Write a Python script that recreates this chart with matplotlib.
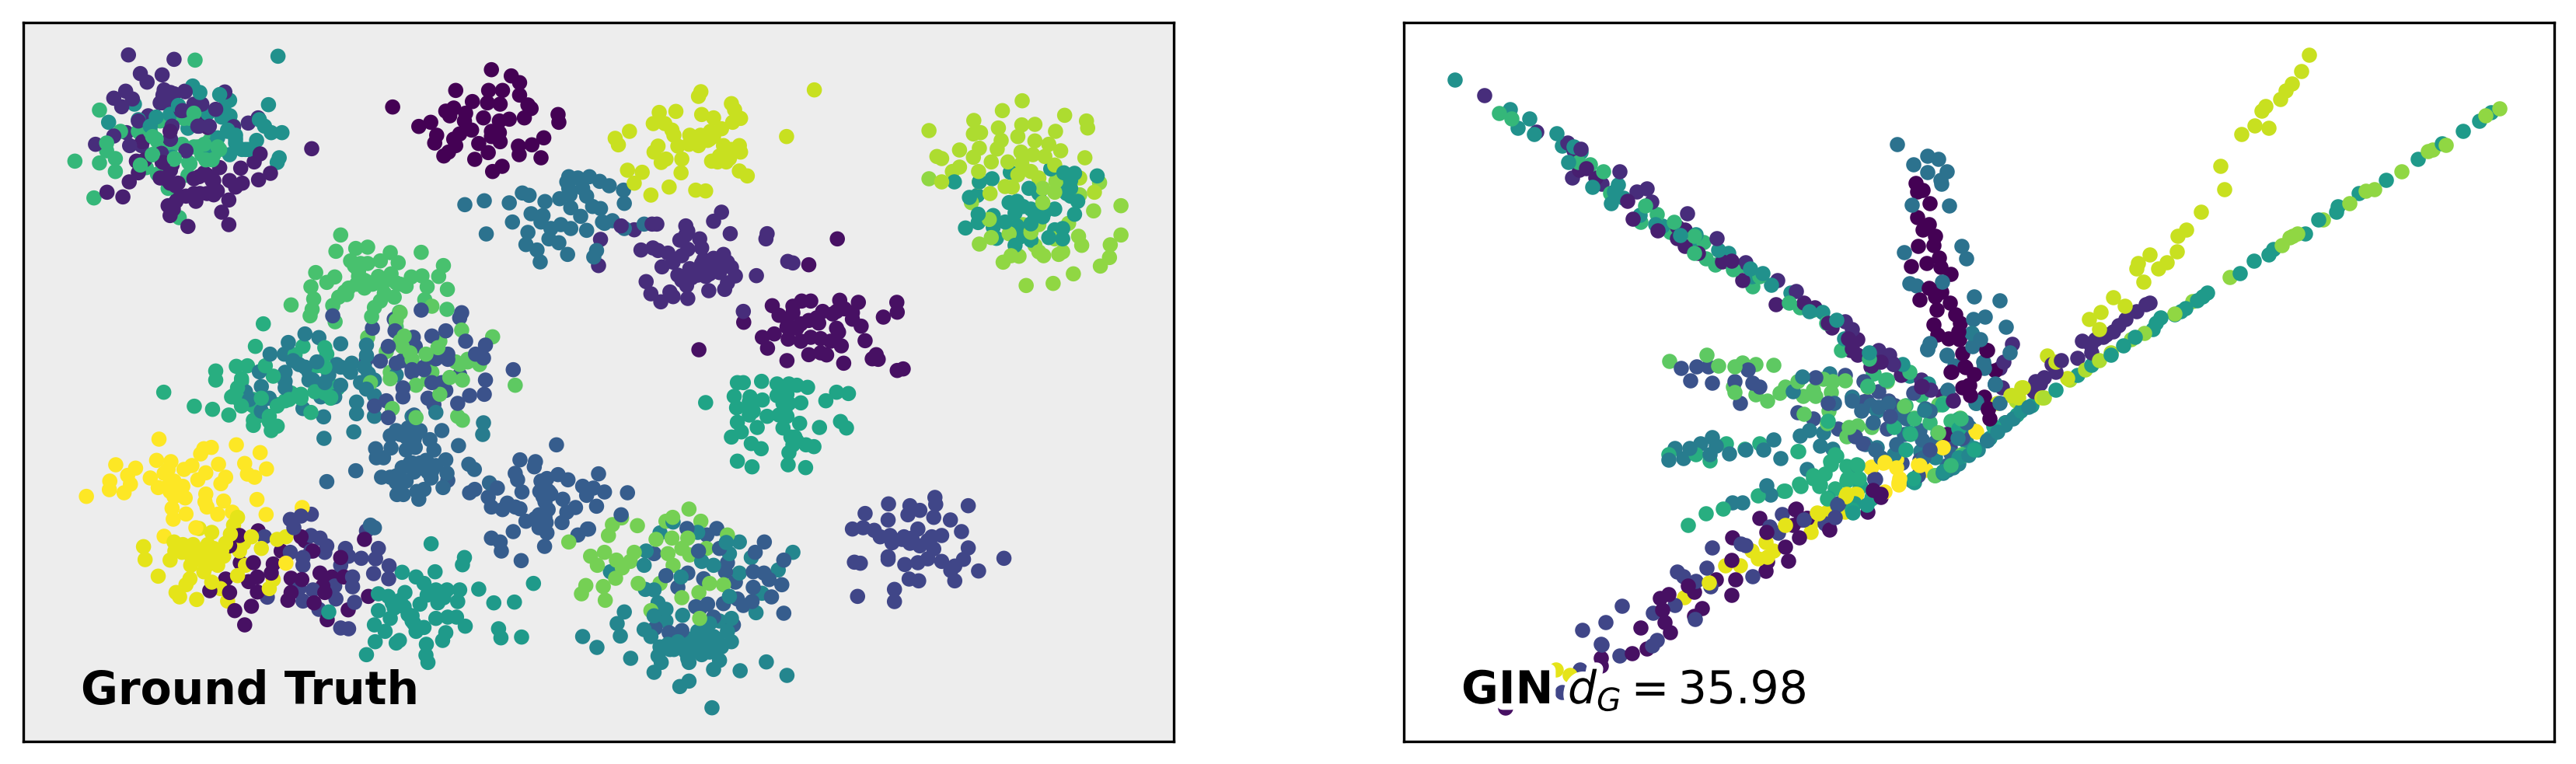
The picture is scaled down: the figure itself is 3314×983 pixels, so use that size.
import numpy as np
import matplotlib
matplotlib.use("Agg")
import matplotlib.pyplot as plt
import matplotlib.patheffects as pe

# ---- ground truth embedding, one list per blob ----
gt0 = [(1240,272),(1290,296),(1311,322),(1150,352),(1233,352),(1268,352),(1311,370),(1192,395),(991,416),(1332,408),(1340,422),(1230,400),(1262,405),(1145,420),(1125,432),(1135,450),(1175,440),(1323,458),(1408,445),(1410,475),(1220,458),(1285,463),(1260,470),(1172,470),(1057,491),(1087,475),(1190,505),(1160,520),(1240,510),(1260,515),(1102,525),(1145,540),(1097,555),(1262,550),(1372,535),(1342,562),(1308,567),(1208,557),(1150,565),(1132,590),(1232,592),(1120,605),(1310,600),(1365,612),(1198,618),(1267,645),(1243,665),(1240,530)]
gt1 = [(2112,925),(2040,1025),(1763,1353),(1876,1247),(1948,1183),(1965,1220),(2000,1185),(2022,1165),(2045,1165),(2118,1162),(2165,1170),(2262,1170),(2263,1208),(2228,1227),(2150,1210),(2075,1205),(2110,1205),(2130,1195),(1985,1235),(2020,1253),(1985,1265),(2065,1250),(2110,1270),(2115,1285),(2172,1262),(2150,1235),(1923,1305),(1953,1292),(1988,1312),(2020,1320),(2045,1305),(2070,1310),(2095,1320),(2122,1338),(2182,1318),(1936,1347),(2040,1372),(2070,1365),(2085,1373),(1985,1395),(2128,1405),(2210,1372),(2200,1388),(2215,1390),(2263,1433),(2278,1427),(2040,1240),(2060,1230),(2100,1215),(2000,1210),(2010,1270),
       (760,2075),(652,2052),(605,2070),(580,2110),(920,2085),(607,2175),(640,2175),(690,2180),(710,2130),(770,2090),(790,2130),(860,2155),(570,2238),(530,2283),(580,2290),(628,2248),(650,2230),(650,2288),(685,2215),(735,2235),(762,2240),(808,2215),(838,2230),(868,2230),(815,2265),(820,2290),(727,2320),(735,2290),(793,2330),(930,2305),(879,2357),(593,2360),(635,2343),(826,2395),(618,2415)]
gt2 = [(787,577),(657,597),(642,628),(608,652),(683,672),(653,697),(612,710),(595,725),(580,700),(555,650),(525,680),(490,693),(540,700),(430,710),(450,710),(405,690),(345,625),(350,670),(327,705),(271,745),(311,763),(470,760),(505,750),(540,755),(578,775),(495,780),(445,780),(425,797),(430,835),(560,822),(578,870),(475,877),(435,640),(410,630),(525,495),(430,540),(430,510),(500,480),(360,550),(444,720),(425,700),(451,760),(503,685),(536,700),(523,750),(490,750),(431,660),(438,810),(516,670),(549,740),(412,630),(356,560),(366,620)]
gt3 = [(325,215),(440,232),(355,287),(410,292),(372,320),(318,355),(288,382),(335,385),(308,415),(415,350),(440,365),(468,357),(420,395),(410,400),(430,380),(568,358),(490,405),(510,405),(458,430),(545,425),(375,450),(350,470),(435,490),(320,515),(288,528),(242,560),(328,565),(358,565),(408,595),(470,585),(627,478),(652,458),(590,492),(500,490),(412,370),(431,360),(405,400),(467,355),(431,490),(431,540),(461,430),(503,490),(529,490),
       (1567,875),(1600,890),(1645,868),(1657,868),(1515,927),(1510,1028),(1820,822),(1800,857),(1730,875),(1735,895),(1842,905),(1935,905),(1932,925),(1765,925),(1715,930),(1730,910),(1617,968),(1647,960),(1660,970),(1770,960),(1735,965),(1685,980),(1720,990),(1698,1015),(1670,1033),(1825,985),(1800,1000),(1775,1005),(1835,1015),(1845,1035),(1855,1068),(1770,1040),(1740,1040),(1710,1065),(1760,1065),(1790,1060),(1815,1055),(1908,1067),(1987,1012),(2000,1018),(1630,1090),(1642,1137),(1667,1168),(1690,1130),(1698,1148),(1732,1105),(1735,1155),(1788,1125),(1828,1120),(1835,1095),(1875,1205),(1770,1020),(1790,1030),(1800,1045),(1750,1055),(1780,1070),(1745,1075),(1815,1030),(1730,1070),(1720,1085)]
gt5 = [(2358,1923),(2241,1948),(2360,1950),(2442,1955),(2295,1955),(2320,1973),(2182,1985),(2290,1990),(2355,2000),(2240,2010),(2397,2010),(2150,2045),(2177,2040),(2205,2050),(2425,2055),(2315,2045),(2245,2070),(2375,2070),(2220,2075),(2350,2075),(2275,2085),(2250,2098),(2295,2100),(2320,2110),(2355,2122),(2442,2118),(2240,2152),(2240,2162),(2532,2158),(2155,2173),(2170,2177),(2375,2170),(2430,2162),(2340,2160),(2282,2182),(2315,2175),(2408,2188),(2398,2205),(2468,2207),(2293,2238),(2317,2245),(2408,2245),(2256,2278),(2163,2305),(2256,2325),(2280,2075),(2300,2080),(2340,2090),
       (786,1988),(760,1995),(733,2008),(742,2040),(668,2075),(785,2070),(808,2080),(925,2052),(825,2110),(872,2120),(955,2120),(733,2135),(785,2130),(765,2155),(820,2135),(880,2150),(912,2158),(948,2160),(860,2185),(765,2185),(982,2187),(943,2217),(981,2237),(890,2230),(890,2268),(845,2265),(755,2275),(790,2280),(675,2308),(765,2323),(848,2315),(895,2328),(805,2355),(860,2427),(880,2430)]
gt6 = [(840,1222),(995,1235),(1063,1200),(1165,1210),(1160,1230),(940,1270),(997,1280),(1125,1280),(1043,1305),(1090,1300),(1175,1320),(1225,1335),(1295,1430),(1220,1385),(980,1340),(1048,1340),(925,1390),(960,1397),(1015,1395),(1100,1388),(1130,1390),(1200,1370),(1040,1440),(1070,1430),(1115,1480),(1160,1450),(1225,1470),(1017,1500),(1090,1480),(1125,1510),(1155,1560),(1185,1530),(1222,1525),(945,1570),(975,1550),(1017,1535),(1080,1540),(1095,1565),(980,1615),(1040,1430),(1070,1420),(1000,1405),(1130,1370),(1105,1380)]
gt7 = [(1404,1720),(1312,1778),(1351,1785),(1348,1805),(1300,1830),(1306,1855),(1408,1835),(1510,1832),(1433,1855),(1365,1860),(1130,1857),(1255,1887),(1470,1880),(1497,1887),(1525,1902),(1317,1902),(1378,1890),(1362,1900),(1185,1905),(1198,1892),(1232,1922),(1420,1930),(1480,1915),(1375,1940),(1280,1945),(1240,1960),(1268,1970),(1312,1967),(1383,1970),(1505,1957),(1452,1962),(1430,1980),(1350,2005),(1327,2015),(1378,2020),(1418,2020),(1295,2055),(1360,2040),(1380,2060),(1482,2045),(1458,2068),(1240,2080),(1262,2095),(1265,2130),(1374,2112),(1315,2167),(1370,1880),(1385,1900),(1390,1910),(1370,1920),(1360,1990),(1375,2000),(1300,1960),(1380,1850),
       (1808,2043),(1733,2043),(1783,2068),(1928,2095),(1905,2135),(1977,2165),(1650,2140),(1762,2130),(1815,2120),(1835,2175),(1830,2210),(1900,2210),(1927,2215),(1940,2240),(1972,2260),(1900,2270),(1855,2250),(1775,2237),(1735,2215),(1680,2225),(1710,2270),(1946,2307),(1897,2325),(1875,2340),(1860,2315),(1825,2333),(1785,2335),(1755,2345),(1767,2350),(1977,2370),(1660,2358),(1653,2427),(1688,2445),(1720,2437),(1850,2415),(1800,2385),(1485,2045),(1567,1990),(1583,1905)]
gt8 = [(1045,1605),(1000,1665),(1030,1655),(1060,1665),(985,1685),(1025,1690),(1045,1700),(1085,1700),(1115,1665),(1157,1723),(948,1735),(987,1732),(1025,1740),(1048,1730),(1095,1740),(950,1770),(968,1770),(1125,1778),(1035,1790),(1075,1780),(1015,1808),(1060,1810),(1100,1800),(1183,1795),(1197,1815),(898,1820),(1080,1825),(1045,1825),(963,1845),(985,1845),(1088,1848),(1128,1830),(1000,1865),(1025,1860),(1235,1867),(825,1862),(1118,1885),(1070,1892),(1052,1900),(1002,1912),(1018,1912),(1057,1930),(935,2030),(945,2040),(1010,1680),(1050,1680),(1080,1790),(1060,1790),(1090,1820),(1040,1790),(1000,1840)]
gt9 = [(1173,793),(1222,778),(1285,786),(1318,748),(1335,757),(1375,781),(1293,860),(1340,828),(1370,835),(1365,860),(1227,906),(1332,900),(1327,947),(1385,925),(1410,940),(1355,968),(1363,1014),(1432,985),(1505,970),(1498,995),(1435,685),(1430,705),(1458,690),(1487,685),(1513,703),(1537,720),(1412,770),(1438,755),(1435,730),(1470,730),(1480,760),(1440,805),(1495,800),(1515,808),(1465,838),(1415,870),(1390,885),(1440,885),(1480,892),(1525,865),(1573,737),(1575,788),(1520,860),(1545,855),(1625,868),(1575,885)]
gt10 = [(770,1292),(805,1306),(860,1330),(728,1325),(682,1370),(718,1370),(755,1410),(655,1438),(720,1440),(780,1440),(850,1410),(888,1405),(885,1440),(925,1335),(925,1375),(930,1445),(1000,1450),(790,1470),(820,1480),(620,1515),(660,1495),(630,1545),(660,1555),(680,1540),(720,1500),(660,1590),(765,1580),(817,1612),(900,1600),(945,1610),(893,1670),(818,1695),(900,1555),(945,1530),(1100,1595),(1220,1635),(1218,1680),(810,1535),(845,1535),(925,1505),(1040,1610),(740,1395),(770,1420),(800,1400),(860,1420),(880,1430),(920,1420),(720,1475),(780,1470),(830,1450),(860,1490),(945,1470),(910,1480)]
gt11 = [(1698,2018),(1665,2060),(1760,2058),(1865,2095),(1832,2097),(1840,2140),(1895,2155),(2000,2135),(1963,2203),(1865,2215),(1630,2130),(1625,2185),(1540,2210),(1770,2170),(1800,2185),(1718,2230),(1628,2278),(1650,2280),(1840,2305),(1922,2293),(1907,2368),(1722,2378),(1575,2365),(1660,2330),(1680,2355),(1650,2380),(1557,2410),(1565,2458),(1625,2433),(1642,2460),(1680,2400),(1470,2460),(1506,2502),(1591,2544),(1665,2500),(1685,2490),(1710,2480),(1740,2470),(1760,2440),(1790,2410),(1815,2400),(1845,2390),(1835,2440),(1845,2480),(1820,2500),(1790,2520),(1770,2530),(1735,2545),(1660,2535),(1668,2560),(1738,2560),(1815,2552),(1800,2587),(1867,2592),(1933,2558),(1985,2610),(1650,2598),(1738,2632),(1715,2653),(1796,2735),(1770,2480),(1800,2460),(1720,2500),(1760,2490),(1780,2490),(1800,2510),(1700,2510),(1730,2520),(1750,2500),(1690,2510),(1810,2470),(1780,2450)]
gt12 = [(702,220),(487,335),(505,360),(555,368),(580,390),(340,405),(678,407),(275,475),(350,465),(430,445),(395,455),(475,498),(525,440),(565,420),(560,455),(580,455),(655,465),(668,490),(685,515),(712,515),(575,505),(595,525),(550,535),(525,565),(648,545),(595,555),(620,580),(580,600),(705,612),(700,630),(435,610),(380,490),(523,440),(562,430),(581,450),(575,510),(595,540),(431,445),(451,410),(611,580),(627,580)]
gt13 = [(2407,705),(2502,693),(2548,668),(2470,705),(2650,655),(2683,670),(2710,672),(2767,682),(2595,730),(2685,705),(2700,730),(2620,750),(2445,765),(2465,757),(2718,780),(2545,785),(2565,780),(2600,810),(2560,825),(2635,820),(2660,810),(2710,830),(2467,830),(2505,835),(2467,862),(2435,883),(2535,860),(2505,880),(2565,875),(2600,867),(2660,890),(2513,923),(2572,918),(2560,950),(2600,930),(2645,920),(2680,925),(2680,885),(2610,830),(2630,840),(2580,800),(2700,760),(2690,750),(2700,700),
        (1088,2102),(1172,2155),(1167,2183),(1098,2210),(1015,2212),(1050,2230),(1070,2255),(1346,2255),(1208,2277),(1022,2290),(955,2295),(1100,2280),(1128,2280),(1160,2280),(980,2305),(1078,2300),(1060,2335),(1105,2330),(1155,2325),(1246,2330),(1298,2327),(1020,2345),(995,2350),(955,2360),(830,2365),(1040,2380),(985,2390),(1100,2390),(1130,2385),(1152,2385),(945,2415),(1174,2420),(1045,2410),(1070,2425),(972,2440),(1050,2440),(1258,2430),(1264,2465),(1316,2462),(1125,2445),(1117,2475),(947,2480),(1008,2475),(1000,2485),(1076,2490),(1075,2532),(925,2530),(1080,2560),(1030,2375),(1010,2320),(990,2330),(1120,2310),(1040,2400)]
gt14 = [(1860,1480),(1875,1480),(1921,1475),(1960,1485),(1990,1485),(2010,1490),(2037,1498),(2110,1517),(2140,1522),(1780,1557),(1852,1533),(1892,1535),(1923,1547),(1960,1530),(1985,1525),(2020,1558),(2083,1550),(1858,1577),(1892,1575),(1980,1585),(1890,1605),(1935,1610),(1965,1605),(2120,1630),(2135,1655),(1860,1633),(1910,1653),(2017,1637),(2067,1653),(1975,1655),(1870,1670),(1845,1690),(1995,1690),(2010,1705),(1895,1715),(1920,1735),(2033,1720),(2053,1727),(1990,1750),(1860,1783),(1897,1805),(1988,1797),(2032,1808),(1890,1555),(1975,1560),(1990,1560),(1985,1610),(2005,1690),(2000,1720),(1900,1590)]
gt15 = [(665,1253),(645,1340),(545,1435),(545,1470),(597,1417),(625,1415),(610,1465),(670,1415),(690,1455),(765,1340),(820,1345),(825,1370),(745,1372),(800,1415),(820,1420),(850,1495),(414,1517),(491,1571),(537,1583),(578,1605),(585,1535),(610,1570),(640,1545),(640,1625),(640,1645),(680,1630),(685,1665),(700,1648),(730,1545),(700,1565),(760,1525),(795,1515),(835,1537),(852,1502),(785,1595),(600,1500),(610,1475),(600,1540),(625,1560),(660,1540),(720,1550),(745,1530),(700,1570),(640,1570),(590,1530),(650,1610),(680,1610),(735,1520),(760,1540),(820,1520),(835,1540)]
gt16 = [(493,235),(252,428),(190,625),(252,632),(292,615),(292,665),(238,767),(453,843),(270,585),(270,555),(305,510),(350,510),(380,510),(395,540),(370,650),(398,675),(385,600),(430,580),(460,560),(480,635),(520,620),(540,600),(500,570),(550,570),(530,545),(405,470),(465,460),(490,440),(510,415),(590,490),(440,618),(475,680),(425,730),(355,640),(386,530),(353,515),(399,550),(480,460),(510,600),(536,620),(516,560),(555,580),(490,570),(477,630),(386,600),(441,615)]
gt17 = [(860,910),(848,973),(898,962),(928,957),(985,978),(1063,977),(885,1010),(928,1020),(960,1010),(1005,1017),(1119,1028),(797,1055),(845,1072),(825,1093),(905,1050),(955,1070),(987,1060),(1038,1072),(1065,1068),(1107,1070),(785,1110),(880,1115),(920,1085),(950,1095),(1000,1095),(1025,1108),(1078,1110),(1129,1120),(792,1157),(875,1140),(855,1150),(735,1180),(970,1135),(995,1150),(840,1182),(1072,1160),(1128,1197),(945,1190),(788,1197),(783,1222),(938,1225),(846,1245),(1008,1208),(1000,1265),(920,1115),(905,1070),(925,1090),(900,1100),(940,1100),(975,1085),(1010,1100),(895,1030),(910,1020),(870,1130),(960,1165)]
gt18 = [(1165,1277),(1243,1303),(928,1305),(1010,1210),(1010,1320),(1110,1320),(975,1360),(1075,1370),(1105,1345),(1180,1390),(1210,1410),(1135,1460),(1167,1470),(1080,1470),(935,1480),(985,1465),(1300,1490),(1050,1490),(1110,1525),(1155,1610),(1167,1625),(990,1580),(1050,1615),(1090,1185),(1000,1240),(1020,1300),(1040,1390),(1160,1410),(1015,1340),(1035,1365),(1080,1400),(1150,1400),(1180,1400),(985,1440),(1090,1440)]
gt19 = [(1738,1968),(1697,2000),(1768,2015),(1680,2015),(1608,2032),(1568,2002),(1545,2028),(1535,2070),(1525,2135),(1490,2150),(1507,2185),(1555,2165),(1600,2135),(1590,2170),(1570,2195),(1553,2235),(1522,2267),(1527,2320),(1478,2263),(1735,2080),(1695,2080),(1655,2085),(1685,2140),(1698,2185),(1782,2120),(1835,2068),(1610,2255),(1665,2255),(1790,2255),(1825,2260),(1763,2290),(1720,2310),(1642,2360),(1765,2390),(1740,2145),(1720,2120),(1435,2095),(1467,2295)]
gt20 = [(2343,693),(2663,703),(2660,745),(2723,755),(2773,708),(2630,730),(2630,785),(2450,785),(2827,797),(2758,817),(2827,910),(2800,948),(2798,997),(2775,1030),(2707,1060),(2656,1097),(2588,1105),(2470,945),(2495,850),(2530,1015),(2550,990),(2570,992),(2620,975),(2632,990),(2670,985),(2680,975),(2720,915),(2728,950),(2695,865),(2580,870),(2600,900),(2620,870),(2660,925),(2500,920),(2545,905),(2610,950)]
gt21 = [(2578,392),(2528,430),(2456,468),(2685,448),(2740,470),(2743,497),(2343,507),(2518,497),(2577,485),(2610,483),(2455,520),(2473,515),(2567,530),(2662,510),(2610,547),(2525,545),(2470,575),(2645,560),(2675,585),(2515,578),(2420,582),(2363,607),(2375,615),(2736,612),(2575,590),(2605,600),(2635,607),(2455,610),(2500,628),(2542,628),(2577,633),(2420,648),(2402,665),(2468,665),(2375,705),(2470,705),(2567,678),(2600,665),(2620,690),(2535,723),(2553,725),(2497,750),(2723,690),(2760,745),(2660,640)]
gt22 = [(1768,357),(1762,375),(1845,403),(1853,427),(2054,350),(1663,437),(1705,433),(1770,445),(1800,458),(1868,460),(1848,475),(1648,480),(1677,480),(1695,505),(1588,510),(1552,537),(1560,562),(1984,530),(1700,525),(1740,525),(1767,525),(1792,510),(1820,500),(1785,545),(1710,567),(1738,560),(1762,565),(1660,567),(1650,590),(1825,565),(1865,565),(1845,580),(1868,590),(1815,605),(1720,617),(1680,617),(1668,630),(1795,625),(1810,628),(1832,628),(1583,660),(1620,668),(1718,670),(1865,663),(1885,682),(1600,710),(1688,725),(1642,756),(1755,737),(1780,740),(1790,540),(1800,530),(1750,550),(1850,590),(1830,600),(1840,615)]
gt23 = [(600,2000),(590,2030),(503,2043),(535,2058),(582,2065),(722,2075),(700,2085),(635,2075),(363,2113),(367,2163),(440,2095),(462,2105),(488,2105),(525,2105),(570,2100),(615,2100),(660,2120),(605,2130),(442,2130),(460,2135),(430,2165),(485,2155),(510,2160),(540,2140),(565,2150),(482,2185),(550,2185),(620,2185),(515,2210),(400,2227),(600,2225),(480,2237),(535,2250),(470,2260),(557,2275),(690,2240),(680,2275),(445,2290),(454,2307),(497,2317),(575,2323),(540,2170),(525,2140),(560,2130),(540,2120),(500,2130),(520,2190)]
gt24 = [(402,1698),(534,1730),(515,1735),(597,1720),(657,1750),(507,1755),(293,1797),(396,1780),(432,1785),(552,1795),(618,1792),(673,1813),(343,1810),(465,1815),(485,1800),(425,1815),(415,1830),(520,1828),(323,1838),(380,1848),(625,1833),(643,1845),(570,1845),(558,1870),(278,1860),(277,1893),(330,1872),(314,1905),(400,1885),(500,1855),(462,1880),(425,1880),(520,1910),(219,1919),(440,1920),(468,1925),(518,1940),(565,1937),(649,1931),(523,1960),(763,1962),(435,1965),(470,1987),(550,1988),(587,1980),(672,1989),(438,2007),(415,2073),(495,2040),(722,2177),(430,1900),(450,1900),(440,1860)]

# ---- GIN embedding ----
gin0 = [(2465,237),(2474,246),(2467,248),(2483,263),(2467,281),(2482,290),(2474,297),(2490,305),(2488,317),(2468,318),(2495,333),(2479,340),(2459,344),(2497,345),(2510,354),(2482,372),(2498,377),(2490,383),(2470,387),(2509,391),(2492,400),(2516,406),(2488,419),(2522,417),(2520,428),(2493,432),(2507,437),(2521,438),(2544,442),(2556,452),(2525,456),(2529,474),(2511,480),(2540,483),(2567,478),(2534,497),(2535,510),(2553,512),(2558,527),(2525,500),(2560,540),(2558,528),(2580,545),(2533,497),(2510,480),(2528,473),(2557,452)]
gin1 = [(2264,668),(2311,656),(2307,677),(2273,686),(2325,668),(2315,693),(2354,683),(2229,693),(2297,705),(2301,723),(2228,722),(2272,736),(2233,747),(2228,767),(2208,747),(2172,755),(2180,763),(2147,766),(2136,771),(2139,786),(2190,784),(2180,794),(2142,802),(2149,815),(2111,809),(2119,836),(2100,842),(2060,848),(2403,660),(2420,641),(2274,724),(1937,912),(2060,858),(2420,637),(2310,657),(2353,680),(2317,670),(2325,668),(2410,632),(2505,560)]
gin2 = [(2041,218),(2032,220),(2053,230),(2094,260),(2101,283),(2133,298),(2158,293),(2168,297),(2158,308),(2168,318),(2185,327),(2216,338),(2228,337),(2242,362),(2285,393),(2321,391),(2335,397),(2352,417),(2357,423),(2378,437),(2390,438),(2381,452),(2390,458),(2407,473),(2420,467),(2446,484),(2472,499),(2512,515),(2437,470),(2408,472),(2447,483),(2473,498),(2500,510),(2513,517),(2383,450)]
gin3 = [(1910,124),(1977,171),(2017,185),(2034,193),(2025,195),(2084,222),(2023,230),(2061,238),(2106,248),(2119,244),(2125,261),(2171,276),(2209,308),(2246,339),(2287,362),(2311,376),(2374,415),(2383,425),(2417,452),(2431,458),(2436,470),(2472,490),(2484,503),
        (2589,444),(2578,467),(2573,475),(2576,500),(2766,391),(2761,393),(2749,402),(2735,412),(2726,420),(2719,428),(2706,435),(2696,438),(2679,440),(2691,455),(2673,462),(2652,465),(2645,480),(2630,487),(2619,492),(2617,505),(2640,470),(2625,495),(2690,445),(2710,432)]
gin5 = [(2293,663),(2277,679),(2288,687),(2321,670),(2348,675),(2361,667),(2366,649),(2240,701),(2246,703),(2203,706),(2196,732),(2158,737),(2166,743),(2182,749),(2201,756),(2255,743),(2155,780),(2127,790),(2087,781),(2066,802),(2181,798),(2132,825),(2126,832),(2036,812),(2061,831),(2084,845),(2033,863),(2412,618),(2509,577),(2060,830),(2010,892)]
gin6 = [(2163,475),(2183,473),(2198,473),(2175,491),(2203,494),(2249,477),(2255,494),(2264,499),(2232,492),(2239,520),(2313,532),(2333,540),(2336,487),(2374,484),(2352,520),(2398,492),(2365,553),(2387,563),(2402,517),(2430,517),(2415,527),(2432,537),(2397,572),(2483,530),(2468,613),(2412,617),(2364,651),(2321,670),(2438,523),(2417,505),(2398,518),(2462,507),(2428,553),(2483,580),(2470,593),(2508,577),(2525,565),(2413,618),(2365,650),(2447,597)]
gin8 = [(2430,520),(2445,535),(2470,555),(2490,570),(2510,585),(2530,545),(2395,530),(2410,545),(2360,520),(2450,560),(2475,590),(2505,600),(2420,590),(2390,600),(2417,525),(2407,523),(2437,550),(2413,580),(2400,573),(2440,573),(2473,567),(2483,530),(2557,568),(2523,565),(2453,540),(2383,512),(2383,517),(2477,527)]
gin9 = [(2441,187),(2480,202),(2494,206),(2462,213),(2480,223),(2505,222),(2497,233),(2498,238),(2460,265),(2508,266),(2524,318),(2450,326),(2530,334),(2457,366),(2466,369),(2499,364),(2540,383),(2573,388),(2539,412),(2554,409),(2581,422),(2537,430),(2483,443),(2480,451),(2548,438),(2505,459),(2586,455),(2538,447),(2552,467),(2553,475),(2515,472),(2567,496),(2543,518),(2573,520),(2506,503),(2553,472),(2567,495),(2543,520),(2480,450),(2505,458)]
gin10 = [(2319,486),(2307,505),(2354,482),(2383,513),(2407,523),(2415,530),(2436,549),(2476,529),(2542,520),(2567,496),(2537,430),(2346,558),(2328,555),(2316,562),(2342,575),(2358,579),(2325,605),(2273,626),(2278,638),(2242,648),(2229,648),(2291,591),(2282,567),(2269,580),(2246,580),(2225,585),(2208,575),(2203,564),(2188,572),(2174,578),(2155,578),(2147,593),(2166,591),(2200,586),(2399,572),(2415,577),(2437,586),(2471,582),(2519,565),(2534,551),(2557,568),(2506,606),(2460,620)]
gin11 = [(2500,610),(2513,603),(2533,587),(2557,568),(2570,557),(2590,540),(2520,598),(2545,580),(2580,548),(2610,525),(2490,590),(2530,570)]
gin12 = [(1872,104),(1943,142),(1968,154),(1953,166),(1974,174),(2003,173),(2010,189),(2025,190),(2034,197),(2018,210),(2049,242),(2082,239),(2077,248),(2089,256),(2073,263),(2110,278),(2130,290),(2139,292),(2162,304),(2182,303),(2181,320),(2211,323),(2224,327),(2252,347),(2254,357),(2268,353),(2279,368),(2304,378),(2328,402),(2345,403),(2363,413),(2373,437),(2405,455),(2448,470),(2457,485),(2481,495),(2505,505),(2500,608),(2520,590),(2540,578),(2560,565),(2580,545),(2600,530)]
gin13 = [(3190,157),(3169,170),(3142,186),(3111,206),(3070,233),(3035,250),(3008,267),(3006,274),(2983,284),(2966,302),(2925,322),(2919,329),(2900,337),(2882,353),(2840,378),(2834,383),(2812,398),(2798,406),(2774,417),(2770,425),(2747,435),(2732,446),(2716,458),(2691,471),(2673,484),(2645,503),(2614,523),(2384,661),(2386,649),(2402,651),(2409,639),(2394,627),(2463,622),(3205,146),(2806,402),(2827,388),(2780,410)]
gin14 = [(2408,643),(2393,628),(2383,657),(2352,642),(2462,617),(2500,608),(2540,580),(2565,550),(2595,535),(2520,553),(2457,558),(2452,580)]
gin15 = [(2172,677),(2195,662),(2217,656),(2221,572),(2245,579),(2314,582),(2200,594),(2182,586),(2264,572),(2262,639),(2295,633),(2315,624),(2333,613),(2348,611),(2341,627),(2356,599),(2361,586),(2376,601),(2389,599),(2376,620),(2392,617),(2351,643),(2361,630),(2458,560),(2519,541),(2499,522),(2448,580),(2437,551),(2147,586),(2363,588),(2355,595),(2380,603),(2390,600),(2377,617),(2342,625),(2317,627),(2297,633),(2333,617),(2313,582),(2352,543)]
gin16 = [(1929,147),(1945,154),(2031,210),(2046,213),(2063,222),(2072,250),(2117,266),(2132,277),(2111,287),(2154,287),(2149,300),(2180,305),(2192,313),(2180,327),(2195,334),(2207,342),(2230,348),(2240,343),(2264,357),(2255,370),(2302,391),(2316,397),(2333,400),(2350,417),(2369,452),(2405,463),(2411,482),(2426,490),(2457,480),(2472,510),(2428,490),(2410,482),(2403,498),(2452,523),(2463,540),(2483,545),(2493,558),(2500,520),(2510,543),(2523,540),(2527,587),(2510,600),(2490,613)]
gin18 = [(2148,466),(2196,458),(2211,472),(2232,473),(2242,468),(2259,470),(2282,471),(2230,499),(2232,506),(2259,509),(2274,517),(2290,507),(2297,499),(2313,492),(2320,511),(2333,503),(2346,489),(2358,492),(2374,491),(2356,506),(2336,511),(2353,530),(2321,534),(2351,546),(2379,551),(2390,549),(2408,551),(2376,563),(2463,539),(2403,499),(2428,492),(2450,524),(2494,522),(2522,539),(2489,613),(2524,586),(2494,558)]
gin20 = [(3198,150),(3147,188),(3124,196),(3090,222),(3055,245),(3044,247),(3023,263),(2989,284),(2956,302),(2946,307),(2936,317),(2869,358),(2821,389),(2798,405),(2759,430),(2742,438),(3216,141),(3130,194),(2950,305)]
gin21 = [(2716,455),(2701,465),(2683,477),(2663,490),(2630,513),(2594,517)]
gin22 = [(2971,72),(2961,93),(2949,109),(2941,118),(2934,129),(2915,138),(2910,144),(2901,163),(2919,166),(2884,174),(2857,215),(2862,245),(2832,274),(2813,297),(2802,305),(2801,325),(2766,329),(2788,339),(2777,347),(2751,340),(2749,347),(2758,364),(2719,384),(2734,395),(2703,403),(2688,412),(2701,425),(2634,459),(2645,467),(2601,500),(2589,510),(2627,513),(2660,488),(2597,513),(2587,510),(2603,500),(2570,520)]
gin23 = [(2167,770),(2199,751),(2220,729),(2239,729),(2254,710),(2262,720),(2272,699),(2282,710),(2330,686),(2330,675),(2338,661),(2351,660),(2297,677),(2274,718),(2374,660),(2376,637),(2389,637),(2375,640),(2387,637),(2340,662),(2373,658),(2020,870),(2002,863)]
gin24 = [(2407,603),(2425,596),(2440,592),(2440,603),(2468,599),(2478,606),(2425,634),(2443,625),(2499,577),(2542,556),(2444,617),(2408,602),(2423,597),(2500,577),(2543,557),(2470,600),(2443,622)]

gt_classes = {0: gt0, 1: gt1, 2: gt2, 3: gt3, 5: gt5, 6: gt6, 7: gt7, 8: gt8, 9: gt9, 10: gt10,
              11: gt11, 12: gt12, 13: gt13, 14: gt14, 15: gt15, 16: gt16, 17: gt17, 18: gt18,
              19: gt19, 20: gt20, 21: gt21, 22: gt22, 23: gt23, 24: gt24}
gin_classes = {0: gin0, 1: gin1, 2: gin2, 3: gin3, 5: gin5, 6: gin6, 8: gin8, 9: gin9, 10: gin10,
               11: gin11, 12: gin12, 13: gin13, 14: gin14, 15: gin15, 16: gin16, 18: gin18,
               20: gin20, 21: gin21, 22: gin22, 23: gin23, 24: gin24}


def scatter_classes(ax, classes):
    pts = np.array([p for k in classes for p in classes[k]], dtype=float)
    labels = np.array([k for k in classes for p in classes[k]])
    # nodes were not drawn class by class, so step through them to mix the overlaps
    order = np.argsort((np.arange(len(pts)) * 389) % len(pts))
    ax.scatter(pts[order, 0], pts[order, 1], c=labels[order], cmap="viridis",
               vmin=0, vmax=24, s=22, linewidths=0)


halo = [pe.withStroke(linewidth=4, foreground="white")]

fig = plt.figure(figsize=(3314 / 300, 984 / 300), dpi=300)
ax1 = fig.add_axes([30 / 3314, 1 - 955 / 984, 1480 / 3314, 925 / 984], facecolor="#ededed")
ax2 = fig.add_axes([1806 / 3314, 1 - 955 / 984, 1480 / 3314, 925 / 984])

scatter_classes(ax1, gt_classes)
ax1.set_xlim(60, 2960)
ax1.set_ylim(2865, 90)
ax1.text(0.05, 0.053, "Ground Truth", transform=ax1.transAxes, fontsize=14,
         fontweight="bold")

scatter_classes(ax2, gin_classes)
ax2.set_xlim(1806, 3286)
ax2.set_ylim(955, 30)
ax2.text(0.05, 0.053, r"$\bf{GIN}$ $d_G = 35.98$", transform=ax2.transAxes, fontsize=14,
         path_effects=halo)

for ax in (ax1, ax2):
    ax.set_xticks([])
    ax.set_yticks([])

fig.savefig("out.png", dpi=300)
